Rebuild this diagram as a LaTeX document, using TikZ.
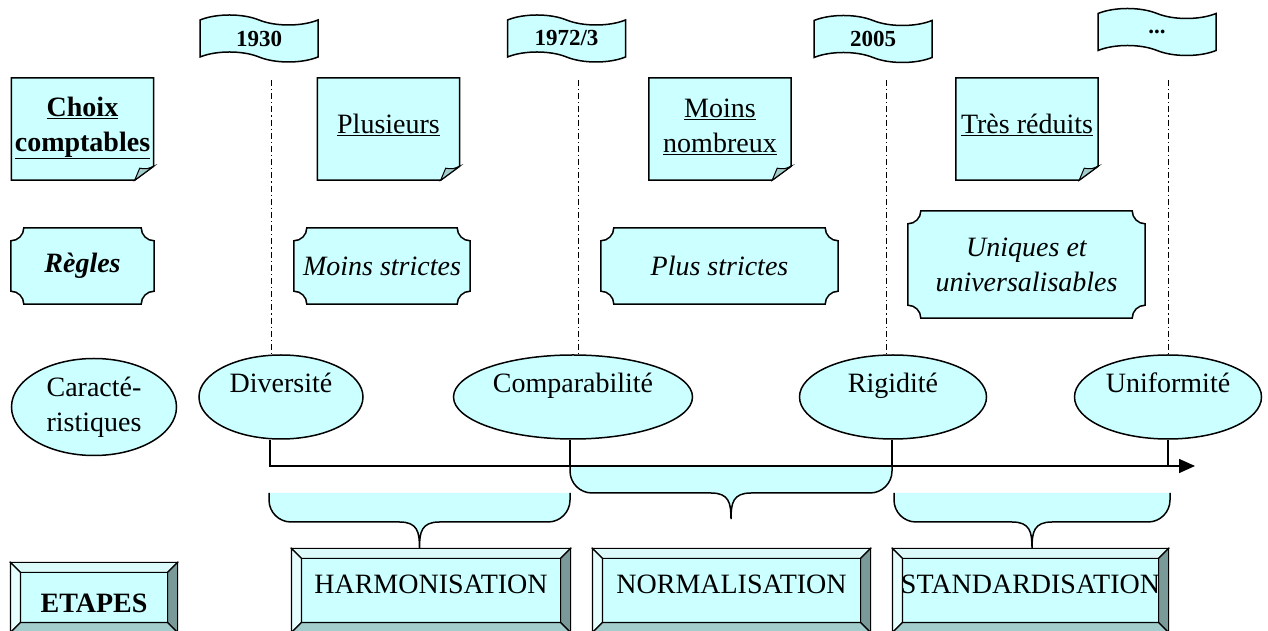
\documentclass[tikz,border=0pt]{standalone}
\usepackage{fontspec}
\setmainfont{Liberation Serif}
\usetikzlibrary{calc}
\usetikzlibrary{positioning}
\usetikzlibrary{shapes.geometric,shapes.symbols}
\usetikzlibrary{arrows.meta,backgrounds}

\definecolor{paleblue}{HTML}{CCFFFF}
\definecolor{bevlight}{HTML}{E6FFFF}
\definecolor{bevtop}{HTML}{DDFAFA}
\definecolor{bevmid}{HTML}{A3CCCC}
\definecolor{bevdark}{HTML}{7A9999}

\tikzset{
  shapeline/.style={line width=1.5pt},
  bevelline/.style={line width=1.2pt},
  yearline/.style={line width=1pt,dash pattern=on 6pt off 3pt on 1.2pt off 3pt},
  flagbox/.style={tape,draw,shapeline,fill=paleblue,minimum width=118pt,minimum height=47pt,inner sep=0pt,
    tape bend top=out and in,tape bend bottom=out and in,tape bend height=10pt,font=\fontsize{23}{27}\selectfont\bfseries},
  notebox/.style={rectangle,minimum width=142pt,minimum height=102pt,inner sep=0pt},
  notetext/.style={align=center},
  plaquebox/.style={rectangle,minimum height=76pt,inner sep=0pt,align=center,font=\itshape},
  headellipse/.style={ellipse,draw,shapeline,fill=paleblue,minimum width=165pt,minimum height=97pt,inner sep=0pt,align=center},
  featbox/.style={ellipse,draw,shapeline,fill=paleblue,minimum height=84pt,inner sep=0pt,text height=19pt,text depth=27pt},
  stagebox/.style={rectangle,draw,bevelline,fill=paleblue,minimum height=83pt,inner sep=0pt,text height=19pt,text depth=13pt}
}

% folded note
\newcommand{\noteframe}[1]{%
  \draw[shapeline,fill=paleblue] (#1.north west) -- (#1.north east) -- ($(#1.south east)+(0,14)$)
    -- ($(#1.south east)+(-19,0)$) -- (#1.south west) -- cycle;
  \draw[line width=1pt,fill=bevmid] ($(#1.south east)+(0,14)$) .. controls ($(#1.south east)+(-7,11)$) .. ($(#1.south east)+(-14,12)$)
    -- ($(#1.south east)+(-19,0)$) -- cycle;}

% plaque with hollow corners
\newcommand{\plaqueframe}[1]{%
  \draw[shapeline,fill=paleblue] ($(#1.north west)+(0,-13)$) arc[start angle=-90,end angle=0,radius=13]
    -- ($(#1.north east)+(-13,0)$) arc[start angle=180,end angle=270,radius=13]
    -- ($(#1.south east)+(0,13)$) arc[start angle=90,end angle=180,radius=13]
    -- ($(#1.south west)+(13,0)$) arc[start angle=0,end angle=90,radius=13] -- cycle;}

% bevelled button
\newcommand{\bevelframe}[1]{%
  \draw[bevelline,fill=bevtop] (#1.north west) -- (#1.north east) -- ($(#1.north east)+(-10,-10)$) -- ($(#1.north west)+(10,-10)$) -- cycle;
  \draw[bevelline,fill=bevlight] (#1.north west) -- ($(#1.north west)+(10,-10)$) -- ($(#1.south west)+(10,10)$) -- (#1.south west) -- cycle;
  \draw[bevelline,fill=bevdark] (#1.north east) -- ($(#1.north east)+(-10,-10)$) -- ($(#1.south east)+(-10,10)$) -- (#1.south east) -- cycle;
  \draw[bevelline,fill=bevmid] (#1.south west) -- ($(#1.south west)+(10,10)$) -- ($(#1.south east)+(-10,10)$) -- (#1.south east) -- cycle;}

\begin{document}
\fontsize{28}{35}\selectfont
\begin{tikzpicture}[x=1pt,y=1pt]
\useasboundingbox (0,0) rectangle (1268,631);

% years
\node[flagbox] (y1930) at (259,592.5) {1930};
\node[flagbox] (y1972) at (566.5,592.5) {1972/3};
\node[flagbox] (y2005) at (873,592) {2005};
\node[flagbox] (ynext) at (1157,599) {...};

% accounting choices
\node[notebox,label={[name=choixtext,notetext,font=\bfseries,yshift=1pt]center:\underline{Choix}\\\underline{comptables}}] (choix) at (82.5,502) {};
\node[notebox,label={[name=plustext,notetext,yshift=4.5pt]center:\underline{Plusieurs}}] (plus) at (388.5,502) {};
\node[notebox,label={[name=moinstext,notetext,yshift=2.5pt]center:\underline{Moins}\\\underline{nombreux}}] (moins) at (720,502) {};
\node[notebox,label={[name=trestext,notetext,yshift=4.5pt]center:\underline{Très réduits}}] (tres) at (1027,502) {};

% rules
\node[plaquebox,minimum width=143pt,font=\bfseries\itshape] (regles) at (82.5,365) {Règles};
\node[plaquebox,minimum width=176pt] (mstrict) at (382,365) {Moins strictes};
\node[plaquebox,minimum width=237pt] (pstrict) at (719.5,365) {Plus strictes};
\node[plaquebox,minimum width=237pt,minimum height=107pt] (unique) at (1026.5,366.5) {Uniques et\\universalisables};

\begin{scope}[on background layer]
\foreach \n in {choix,plus,moins,tres} {\noteframe{\n}}
\foreach \n in {regles,mstrict,pstrict,unique} {\plaqueframe{\n}}
\end{scope}

% braces
\foreach \xa/\xb/\yt/\yh in {269/570/138/109,570/892/165/138,894/1170/138/109}
  \draw[shapeline,fill=paleblue] (\xa,\yt) -- (\xa,\yh+22) arc[start angle=180,end angle=270,radius=22]
    -- ({(\xa+\xb)/2-20},\yh) .. controls ({(\xa+\xb)/2-2},\yh) and ({(\xa+\xb)/2},\yh-10) .. ({(\xa+\xb)/2},\yh-26)
    .. controls ({(\xa+\xb)/2},\yh-10) and ({(\xa+\xb)/2+2},\yh) .. ({(\xa+\xb)/2+20},\yh)
    -- (\xb-22,\yh) arc[start angle=270,end angle=360,radius=22] -- (\xb,\yt);

% characteristics
\node[headellipse] (carac) at (94,224) {Caracté-\\ristiques};
\node[featbox,minimum width=164pt] (div) at (281,234) {Diversité};
\node[featbox,minimum width=239pt] (comp) at (573,234) {Comparabilité};
\node[featbox,minimum width=187pt] (rig) at (893,234) {Rigidité};
\node[featbox,minimum width=187pt] (unif) at (1168,234) {Uniformité};

% time axis
\coordinate (a0) at (270,165);
\coordinate (a1) at (570,165);
\coordinate (a2) at (892,165);
\coordinate (a3) at (1168,165);
\coordinate (aend) at (1195,165);
\draw[shapeline,-{Triangle[length=16pt,width=14pt]}] (a0 |- div.south) -- (a0) -- (aend);
\foreach \t/\e in {a1/comp,a2/rig,a3/unif} \draw[shapeline] (\t |- \e.south) -- (\t);

\coordinate (v0) at (271,551);
\coordinate (v1) at (578,551);
\coordinate (v2) at (886,551);
\coordinate (v3) at (1168,551);
\foreach \v/\e in {v0/div,v1/comp,v2/rig,v3/unif} \draw[yearline] (\v) -- (\v |- \e.north);

% stages
\node[stagebox,minimum width=166pt,minimum height=69pt,font=\bfseries,text height=30pt,text depth=0pt] (etapes) at (94,33.5) {ETAPES};
\node[stagebox,minimum width=278pt] (harmo) at (431,40.5) {HARMONISATION};
\node[stagebox,minimum width=277pt] (norma) at (731.5,40.5) {NORMALISATION};
\node[stagebox,minimum width=275pt] (standa) at (1030.5,40.5) {STANDARDISATION};
\foreach \n in {etapes,harmo,norma,standa} {\bevelframe{\n}}

\end{tikzpicture}
\end{document}
